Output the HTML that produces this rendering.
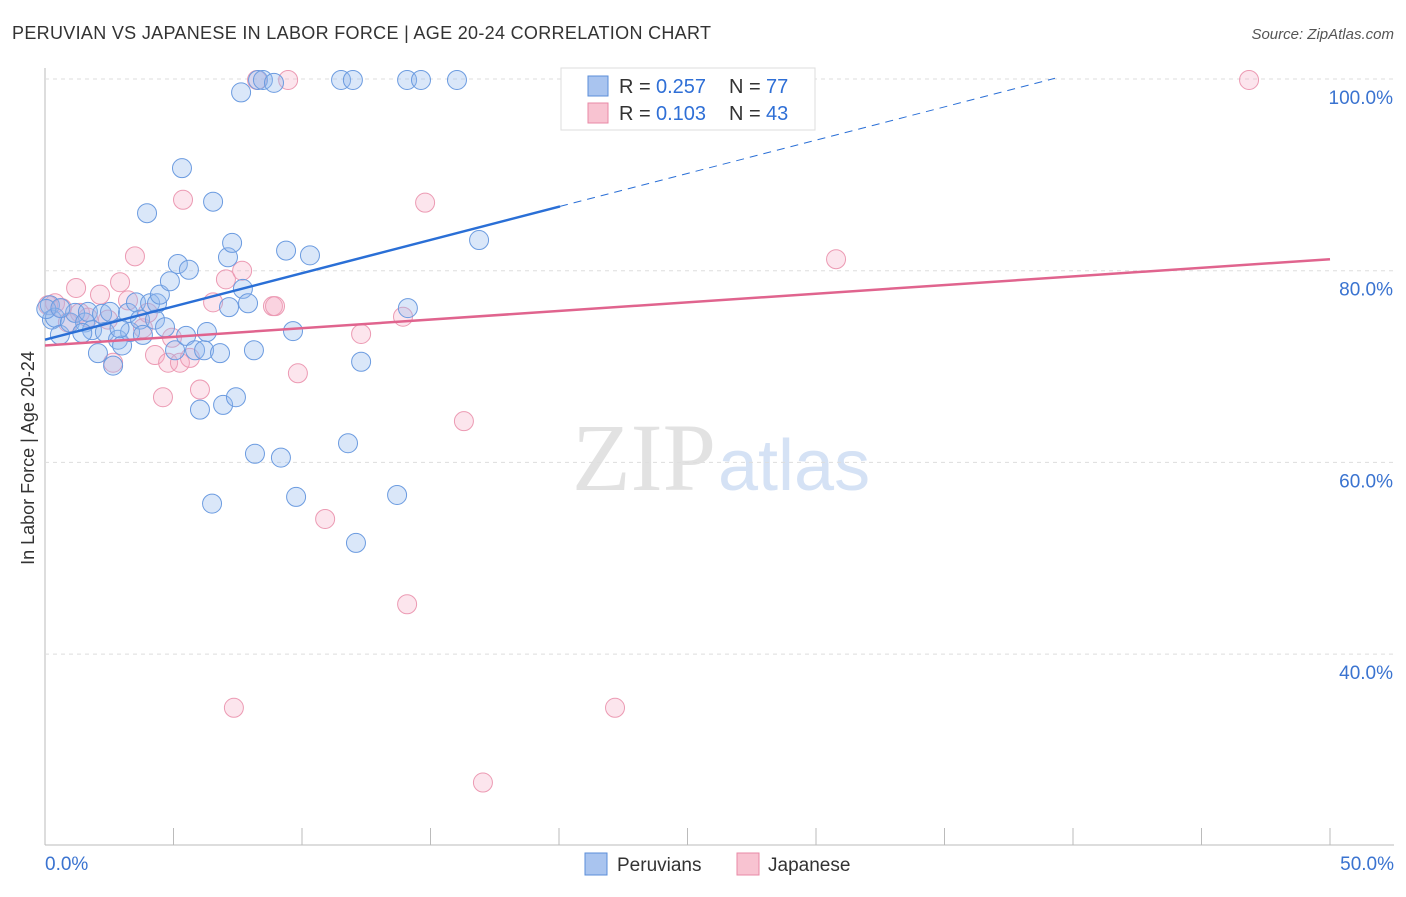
<!DOCTYPE html>
<html><head><meta charset="utf-8"><style>
body{margin:0;background:#fff;font-family:"Liberation Sans",sans-serif}
</style></head><body>
<svg id="c" width="1406" height="892" xmlns="http://www.w3.org/2000/svg">
<text x="12" y="39" font-size="18" fill="#333" textLength="699">PERUVIAN VS JAPANESE IN LABOR FORCE | AGE 20-24 CORRELATION CHART</text>
<text x="1394" y="39" font-size="15" fill="#555" font-style="italic" text-anchor="end">Source: ZipAtlas.com</text>
<text x="716" y="490" font-size="96" fill="#e2e2e2" font-family="Liberation Serif,serif" text-anchor="end">ZIP</text>
<text x="718" y="490" font-size="72" fill="#d5e2f5">atlas</text>
<text transform="translate(34,458) rotate(-90)" font-size="18" fill="#333" text-anchor="middle">In Labor Force | Age 20-24</text>
<g id="grid"></g><g id="pts"></g><g id="lines"></g>
<g>
<rect x="561" y="68" width="254" height="62" fill="#fff" stroke="#ddd"/>
<rect x="588" y="76" width="20" height="20" fill="#a9c4ef" stroke="#5b8ed8"/>
<rect x="588" y="103" width="20" height="20" fill="#f8c3d1" stroke="#e889a6"/>
<text x="619" y="93" font-size="20" fill="#333">R =</text><text x="656" y="93" font-size="20" fill="#2f6fd6">0.257</text>
<text x="729" y="93" font-size="20" fill="#333">N =</text><text x="766" y="93" font-size="20" fill="#2f6fd6">77</text>
<text x="619" y="120" font-size="20" fill="#333">R =</text><text x="656" y="120" font-size="20" fill="#2f6fd6">0.103</text>
<text x="729" y="120" font-size="20" fill="#333">N =</text><text x="766" y="120" font-size="20" fill="#2f6fd6">43</text>
</g>
<g>
<rect x="585" y="853" width="22" height="22" fill="#a9c4ef" stroke="#5b8ed8"/>
<text x="617" y="871" font-size="19" fill="#333">Peruvians</text>
<rect x="737" y="853" width="22" height="22" fill="#f8c3d1" stroke="#e889a6"/>
<text x="768" y="871" font-size="19" fill="#333">Japanese</text>
</g>
</svg>
<script>
const yTicks=[40,60,80,100];
const xTickLabels=["0.0%","50.0%"];
const peruX=[0.19,0.27,0.39,0.58,0.97,1.17,1.56,1.67,1.83,2.06,2.22,2.33,2.53,2.65,2.84,3.0,3.23,3.31,3.54,3.7,3.81,3.97,4.09,4.28,4.36,4.47,4.67,4.86,5.06,5.17,5.33,5.49,5.6,5.84,6.03,6.19,6.3,6.54,6.81,6.93,7.12,7.16,7.28,7.43,7.63,7.7,7.9,8.13,8.17,8.29,8.48,8.91,9.18,9.38,9.65,9.77,10.31,11.52,11.79,11.98,12.1,12.3,13.7,14.09,14.12,14.63,16.03,16.89,6.5,0.05,0.6,1.45,2.9];
const peruY=[76.4,74.9,75.1,73.3,74.6,75.6,74.6,75.7,73.8,71.4,75.5,73.6,75.7,70.1,72.8,72.2,75.6,73.6,76.7,74.9,73.3,86.0,76.6,74.9,76.6,77.5,74.1,78.9,71.7,80.7,90.7,73.2,80.1,71.7,65.5,71.7,73.6,87.2,71.4,66.0,81.4,76.2,82.9,66.8,98.6,78.1,76.6,71.7,60.9,99.9,99.9,99.6,60.5,82.1,73.7,56.4,81.6,99.9,62.0,99.9,51.6,70.5,56.6,99.9,76.1,99.9,99.9,83.2,55.7,76.0,76.1,73.5,74.0];
const japX=[0.12,0.39,0.66,0.89,1.21,1.36,1.67,2.14,2.45,2.65,2.92,3.23,3.5,3.81,4.0,4.28,4.59,4.79,4.94,5.25,5.37,5.64,6.03,6.54,7.04,7.35,7.67,8.25,8.87,8.95,9.46,9.84,10.9,12.3,13.93,14.09,14.79,16.3,17.04,20.74,22.18,23.27,30.78,46.85];
const japY=[76.4,76.6,76.1,74.6,78.2,75.6,75.1,77.5,74.9,70.4,78.8,76.9,81.5,74.0,75.6,71.2,66.8,70.4,73.0,70.4,87.4,70.9,67.6,76.7,79.1,34.4,80.0,99.9,76.3,76.3,99.9,69.3,54.1,73.4,75.2,45.2,87.1,64.3,26.6,99.9,34.4,99.9,81.2,99.9];
const peruTrend=[72.8,0.694,20.04,39.3];
const japTrend=[72.2,0.18,50];
const X=v=>45+v/50*1285, Y=v=>79+(100-v)/20*191.7;
const NS="http://www.w3.org/2000/svg";
function mk(t,a,p){const e=document.createElementNS(NS,t);for(const k in a)e.setAttribute(k,a[k]);p.appendChild(e);return e;}
const g=document.getElementById('grid');
const ax=mk('line',{x1:45,y1:68,x2:45,y2:845,stroke:'#bbb'},g);


const bx=mk('line',{x1:45,y1:845,x2:1394,y2:845,stroke:'#bbb'},g);


yTicks.forEach(v=>{
 const l=mk('line',{x1:45,y1:Y(v),x2:1394,y2:Y(v),stroke:'#ddd','stroke-dasharray':'4,4'},g);
 
 
 const t=mk('text',{x:1393,y:Y(v)+25,'font-size':19,fill:'#3a73d0','text-anchor':'end'},g);
 t.textContent=v.toFixed(1)+'%';
 
 
});
for(let i=0;i<=10;i++){const l=mk('line',{x1:X(i*5),y1:828,x2:X(i*5),y2:845,stroke:'#bbb'},g);
 
 }
[[0,45,'start'],[1,1394,'end']].forEach(([i,x,a])=>{const t=mk('text',{x:x,y:870,'font-size':19,fill:'#3a73d0','text-anchor':a},g);t.textContent=xTickLabels[i];
 
 });
const p=document.getElementById('pts');
japX.forEach((x,i)=>{const c=mk('circle',{cx:X(x),cy:Y(japY[i]),r:9.5,fill:'rgba(245,170,195,0.3)',stroke:'#ec9ab3','stroke-width':1},p);
 
 });
peruX.forEach((x,i)=>{const c=mk('circle',{cx:X(x),cy:Y(peruY[i]),r:9.5,fill:'rgba(150,185,238,0.35)',stroke:'#6b9be0','stroke-width':1},p);
 
 });
const L=document.getElementById('lines');
const f=x=>peruTrend[0]+peruTrend[1]*x;
let t1=mk('line',{x1:X(0),y1:Y(f(0)),x2:X(peruTrend[2]),y2:Y(f(peruTrend[2])),stroke:'#2a6fd6','stroke-width':2.5},L);


let t2=mk('line',{x1:X(peruTrend[2]),y1:Y(f(peruTrend[2])),x2:X(peruTrend[3]),y2:Y(f(peruTrend[3])),stroke:'#2a6fd6','stroke-width':1,'stroke-dasharray':'8,6'},L);


let t3=mk('line',{x1:X(0),y1:Y(japTrend[0]),x2:X(japTrend[2]),y2:Y(japTrend[0]+japTrend[1]*japTrend[2]),stroke:'#e0648e','stroke-width':2.5},L);


</script>
</body></html>
